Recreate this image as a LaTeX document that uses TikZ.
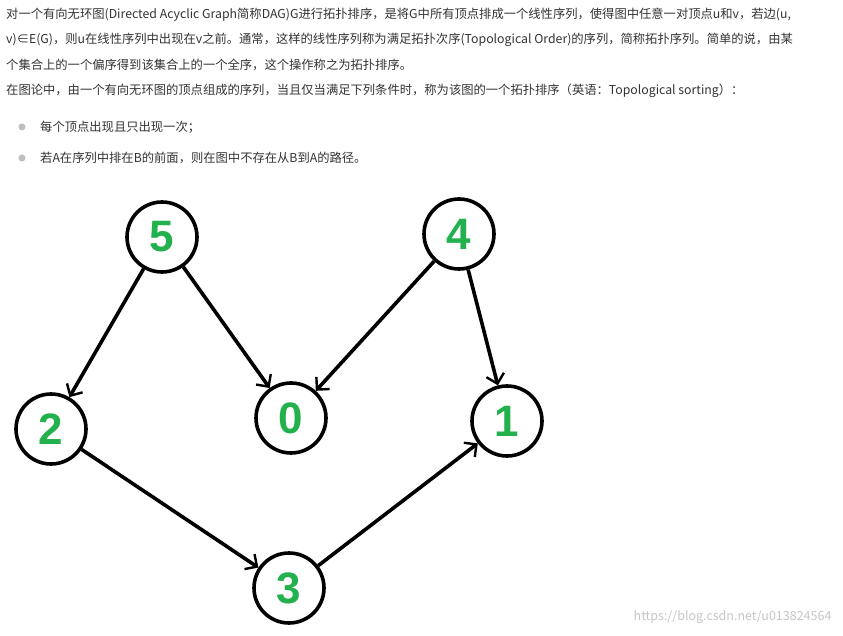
\documentclass[tikz,border=0pt]{standalone}
\usepackage{fontspec}
\setmainfont{Noto Sans CJK SC}
\newfontfamily\digitfont{Liberation Sans}
\usetikzlibrary{arrows.meta}
\definecolor{txt}{HTML}{333333}
\definecolor{dgreen}{HTML}{22B14C}
\tikzset{
  line/.style={anchor=west,inner sep=0pt,text=txt,font=\fontsize{12.3}{14}\selectfont},
  vert/.style={circle,draw=black,line width=3.6pt,minimum size=70pt,inner sep=0pt,text=dgreen,font=\digitfont\bfseries\fontsize{44}{44}\selectfont},
  edge/.style={line width=3.6pt,-{Straight Barb[length=9pt,width=18pt,line width=2.4pt]}}
}
\begin{document}
\begin{tikzpicture}[x=1pt,y=-1pt]
\useasboundingbox (0,0) rectangle (843,636);
\fill[white] (0,0) rectangle (843,636);
\node[line] (l1) at (6,15) {对一个有向无环图(Directed Acyclic Graph简称DAG)G进行拓扑排序，是将G中所有顶点排成一个线性序列，使得图中任意一对顶点u和v，若边(u,};
\node[line] (l2) at (6,40) {v)∈E(G)，则u在线性序列中出现在v之前。通常，这样的线性序列称为满足拓扑次序(Topological Order)的序列，简称拓扑序列。简单的说，由某};
\node[line] (l3) at (6,65) {个集合上的一个偏序得到该集合上的一个全序，这个操作称之为拓扑排序。};
\node[line] (l4) at (6,91) {在图论中，由一个有向无环图的顶点组成的序列，当且仅当满足下列条件时，称为该图的一个拓扑排序（英语：Topological sorting）：};
\fill[gray!50] (22,127) circle (3.5pt) coordinate (b1);
\fill[gray!50] (22,158) circle (3.5pt) coordinate (b2);
\node[line] (t1) at (40,127) {每个顶点出现且只出现一次；};
\node[line] (t2) at (40,158) {若A在序列中排在B的前面，则在图中不存在从B到A的路径。};
\node[vert] (n5) at (162,237) {5};
\node[vert] (n4) at (459,234) {4};
\node[vert] (n2) at (51,429) {2};
\node[vert] (n0) at (291,418) {0};
\node[vert] (n1) at (507,421) {1};
\node[vert] (n3) at (289,588) {3};
\draw[edge] (n5) -- (n2);
\draw[edge] (n5) -- (n0);
\draw[edge] (n4) -- (n0);
\draw[edge] (n4) -- (n1);
\draw[edge] (n2) -- (n3);
\draw[edge] (n3) -- (n1);
\node[anchor=east,text=gray!45,font=\fontsize{12.5}{14}\selectfont] (wm) at (835,617) {https://blog.csdn.net/u013824564};
\end{tikzpicture}
\end{document}
